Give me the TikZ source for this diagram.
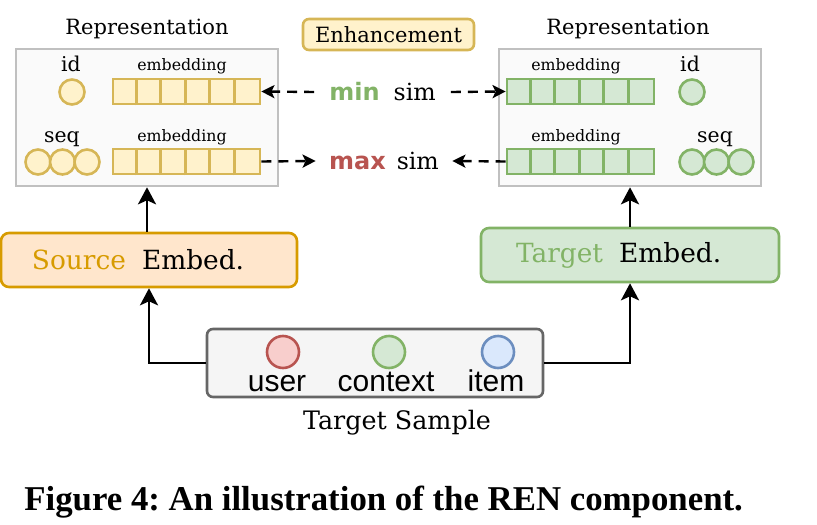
\documentclass[tikz,border=0pt]{standalone}
\usepackage{fontspec}
\usepackage{tikz}
\usetikzlibrary{arrows.meta}

\setmainfont{DejaVu Serif}
\newfontfamily\helvfont{Liberation Sans}
\newfontfamily\capfont{Liberation Serif}
\newfontfamily\handfont{DejaVu Sans}
\frenchspacing

\definecolor{repgray}{HTML}{C0C0C0}
\definecolor{repfill}{HTML}{FAFAFA}
\definecolor{goldline}{HTML}{D6B656}
\definecolor{goldfill}{HTML}{FFF2CC}
\definecolor{srcline}{HTML}{D79B00}
\definecolor{srcfill}{HTML}{FFE6CC}
\definecolor{greenline}{HTML}{82B366}
\definecolor{greenfill}{HTML}{D5E8D4}
\definecolor{redline}{HTML}{B85450}
\definecolor{redfill}{HTML}{F8CECC}
\definecolor{blueline}{HTML}{6C8EBF}
\definecolor{bluefill}{HTML}{DAE8FC}
\definecolor{samplegray}{HTML}{666666}
\definecolor{samplefill}{HTML}{F5F5F5}

\tikzset{
  repbox/.style={draw=repgray, fill=repfill, line width=1.3pt,
    minimum width=131pt, minimum height=68.5pt},
  cellrow/.style={line width=1.4pt, minimum width=73.5pt,
    minimum height=12.5pt, inner sep=0pt},
  goldrow/.style={cellrow, draw=goldline, fill=goldfill},
  greenrow/.style={cellrow, draw=greenline, fill=greenfill},
  dot/.style={circle, line width=1.3pt, minimum size=12.5pt, inner sep=0pt},
  golddot/.style={dot, draw=goldline, fill=goldfill},
  greendot/.style={dot, draw=greenline, fill=greenfill},
  bigdot/.style 2 args={circle, line width=1.3pt, minimum size=16pt,
    inner sep=0pt, draw=#1, fill=#2},
  title/.style={anchor=base, font=\fontsize{10.5}{13}\selectfont},
  embtext/.style={anchor=base, font=\fontsize{7.9}{10}\selectfont},
  tagtext/.style={anchor=base, font=\fontsize{10.2}{12}\selectfont},
  embedbox/.style={rounded corners=4pt, line width=1.3pt, minimum height=27pt,
    align=left, font=\fontsize{13.2}{16}\selectfont},
  simtext/.style={minimum width=68pt, inner xsep=0pt,
    font=\fontsize{11.8}{14}\selectfont},
  simarrow/.style={line width=1.2pt, dash pattern=on 5pt off 3.5pt,
    -{Stealth[length=6.5pt,width=6.5pt,inset=1.5pt]}},
  flow/.style={line width=1.3pt, -{Stealth[length=8.5pt,width=9pt,inset=2pt]}},
  sanstext/.style={anchor=base, font=\helvfont\fontsize{15}{18}\selectfont}
}

\begin{document}
\begin{tikzpicture}[x=0.5pt, y=-0.5pt]
\useasboundingbox (0,0) rectangle (817,524);

% Representation boxes
\node[repbox] (srcrep) at (147,117.5) {};
\node[repbox] (tgtrep) at (630,117.5) {};
\node[title] (srctitle) at (147,35) {Representation};
\node[title] (tgttitle) at (628,35) {Representation};

% Source side: id and seq
\node[tagtext] (srcidtag) at (71,72) {id};
\node[tagtext] (srcseqtag) at (62,142) {seq};
\node[golddot] (srciddot) at (72,92) {};
\foreach \n/\x in {1/38,2/62.5,3/87}
  \node[golddot] (srcseqdot\n) at (\x,162) {};
\node[embtext] (srcidemb) at (182,71) {embedding};
\node[embtext] (srcseqemb) at (182,141) {embedding};
\node[goldrow] (srcid) at (186.5,91.5) {};
\node[goldrow] (srcseq) at (186.5,161.5) {};

% Target side: id and seq
\node[tagtext] (tgtidtag) at (690,72) {id};
\node[tagtext] (tgtseqtag) at (715,142) {seq};
\node[greendot] (tgtiddot) at (692,92) {};
\foreach \n/\x in {1/692,2/716.5,3/741}
  \node[greendot] (tgtseqdot\n) at (\x,162) {};
\node[embtext] (tgtidemb) at (576,71) {embedding};
\node[embtext] (tgtseqemb) at (576,141) {embedding};
\node[greenrow] (tgtid) at (580.5,91.5) {};
\node[greenrow] (tgtseq) at (580.5,161.5) {};

% Cell dividers
\foreach \r/\c in {srcid/goldline,srcseq/goldline,tgtid/greenline,tgtseq/greenline}
  \foreach \i in {1,...,5}
    \draw[\c, line width=1.4pt] ([xshift=\i*12.25pt]\r.south west) -- ([xshift=\i*12.25pt]\r.north west);

% Enhancement
\node[draw=goldline, fill=goldfill, rounded corners=3pt, line width=1.3pt,
  minimum width=85.5pt, minimum height=15.5pt, inner sep=0pt,
  font=\fontsize{10.5}{13}\selectfont] (enhance) at (388.5,34.5) {Enhancement};
\node[simtext] (minsim) at (382.5,92)
  {\textcolor{greenline}{\handfont\bfseries\fontsize{12}{14}\selectfont min}\hspace{7pt}sim};
\node[simtext] (maxsim) at (384,161)
  {\textcolor{redline}{\handfont\bfseries\fontsize{12}{14}\selectfont max}\hspace{5.5pt}sim};
\draw[simarrow] (minsim.west) -- (srcid.east);
\draw[simarrow] (minsim.east) -- (tgtid.west);
\draw[simarrow] (srcseq.east) -- (maxsim.west);
\draw[simarrow] (tgtseq.west) -- (maxsim.east);

% Embedding layers
\node[embedbox, draw=srcline, fill=srcfill, text width=117pt, inner xsep=15.5pt]
  (srcemb) at (149,260) {\textcolor{srcline}{Source}\hspace{8pt}Embed.};
\node[embedbox, draw=greenline, fill=greenfill, text width=114pt, inner xsep=17.5pt]
  (tgtemb) at (630,255) {\textcolor{greenline}{Target}\hspace{8pt}Embed.};
\draw[flow] (srcemb.north -| srcrep.south) -- (srcrep.south);
\draw[flow] (tgtemb.north) -- (tgtrep.south);

% Target sample
\node[draw=samplegray, fill=samplefill, rounded corners=3pt, line width=1.3pt,
  minimum width=168pt, minimum height=34pt] (sample) at (375,363) {};
\node[bigdot={redline}{redfill}] (userdot) at (283,352) {};
\node[bigdot={greenline}{greenfill}] (ctxdot) at (389,352) {};
\node[bigdot={blueline}{bluefill}] (itemdot) at (498,352) {};
\node[sanstext] (userlabel) at (277,391) {user};
\node[sanstext] (ctxlabel) at (386,391) {context};
\node[sanstext] (itemlabel) at (496,391) {item};
\node[anchor=base, font=\fontsize{12.7}{15}\selectfont] (samplelabel) at (397,429) {Target Sample};
\draw[flow] (sample.west) -| (srcemb.south);
\draw[flow] (sample.east) -| (tgtemb.south);

% Caption
\node[anchor=base west, inner sep=0pt, font=\capfont\bfseries\fontsize{17.4}{20}\selectfont]
  (caption) at (24,510) {Figure 4: An illustration of the REN component.};

\end{tikzpicture}
\end{document}
